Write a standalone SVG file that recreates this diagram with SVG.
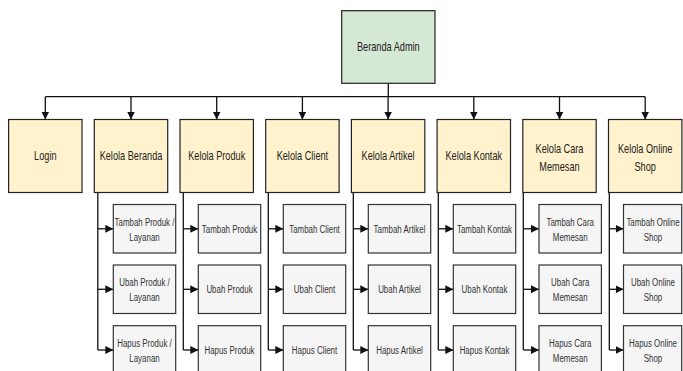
<svg xmlns="http://www.w3.org/2000/svg" width="683" height="371" viewBox="0 0 683 371">
<defs>
<marker id="arr" markerUnits="userSpaceOnUse" markerWidth="8" markerHeight="8" refX="8" refY="4" orient="auto">
<path d="M0,0 L8,4 L0,8 Z" fill="#111"/>
</marker>
<style>
.root{fill:#d5e8d4;stroke:#222;stroke-width:1.2}
.main{fill:#fff2cc;stroke:#222;stroke-width:1.2}
.sub{fill:#f5f5f5;stroke:#333;stroke-width:1.2}
.t{font-family:"Liberation Sans",Arial,sans-serif;font-size:13.5px;fill:#222;text-anchor:middle}
.s{font-family:"Liberation Sans",Arial,sans-serif;font-size:11px;fill:#333;text-anchor:middle}
.c{fill:none;stroke:#111;stroke-width:1.3}
.ca{fill:none;stroke:#111;stroke-width:1.3;marker-end:url(#arr)}
</style>
</defs>
<rect width="683" height="371" fill="#fff"/>

<g id="connectors">
<path class="c" d="M388.3,83.3 V96.7"/>
<path class="c" d="M45.3,96.7 H645.2"/>
<path class="ca" d="M45.3,96.7 V119.5"/>
<path class="ca" d="M131,96.7 V119.5"/>
<path class="ca" d="M216.7,96.7 V119.5"/>
<path class="ca" d="M302.4,96.7 V119.5"/>
<path class="ca" d="M388.1,96.7 V119.5"/>
<path class="ca" d="M473.8,96.7 V119.5"/>
<path class="ca" d="M559.5,96.7 V119.5"/>
<path class="ca" d="M645.2,96.7 V119.5"/>

<path class="c" d="M97.8,192.5 V350"/>
<path class="ca" d="M97.8,228.8 H113.3"/>
<path class="ca" d="M97.8,289.3 H113.3"/>
<path class="ca" d="M97.8,350 H113.3"/>

<path class="c" d="M183.3,192.5 V350"/>
<path class="ca" d="M183.3,228.8 H198.3"/>
<path class="ca" d="M183.3,289.3 H198.3"/>
<path class="ca" d="M183.3,350 H198.3"/>

<path class="c" d="M268.3,192.5 V350"/>
<path class="ca" d="M268.3,228.8 H283.3"/>
<path class="ca" d="M268.3,289.3 H283.3"/>
<path class="ca" d="M268.3,350 H283.3"/>

<path class="c" d="M353.3,192.5 V350"/>
<path class="ca" d="M353.3,228.8 H368.3"/>
<path class="ca" d="M353.3,289.3 H368.3"/>
<path class="ca" d="M353.3,350 H368.3"/>

<path class="c" d="M438.3,192.5 V350"/>
<path class="ca" d="M438.3,228.8 H453.3"/>
<path class="ca" d="M438.3,289.3 H453.3"/>
<path class="ca" d="M438.3,350 H453.3"/>

<path class="c" d="M523.3,192.5 V350"/>
<path class="ca" d="M523.3,228.8 H539"/>
<path class="ca" d="M523.3,289.3 H539"/>
<path class="ca" d="M523.3,350 H539"/>

<path class="c" d="M609.3,192.5 V350"/>
<path class="ca" d="M609.3,228.8 H623.5"/>
<path class="ca" d="M609.3,289.3 H623.5"/>
<path class="ca" d="M609.3,350 H623.5"/>
</g>

<g id="beranda-admin">
<rect class="root" x="341.7" y="10.7" width="93.3" height="72.6"/>
<text class="t" transform="translate(388.3,51) scale(0.68,1)">Beranda Admin</text>
</g>

<g id="login">
<rect class="main" x="8.6" y="119.5" width="73.4" height="73"/>
<text class="t" transform="translate(45.3,160) scale(0.68,1)">Login</text>
</g>
<g id="kelola-beranda">
<rect class="main" x="94.3" y="119.5" width="73.4" height="73"/>
<text class="t" transform="translate(131,160) scale(0.68,1)">Kelola Beranda</text>
</g>
<g id="kelola-produk">
<rect class="main" x="180" y="119.5" width="73.4" height="73"/>
<text class="t" transform="translate(216.7,160) scale(0.68,1)">Kelola Produk</text>
</g>
<g id="kelola-client">
<rect class="main" x="265.7" y="119.5" width="73.4" height="73"/>
<text class="t" transform="translate(302.4,160) scale(0.68,1)">Kelola Client</text>
</g>
<g id="kelola-artikel">
<rect class="main" x="351.4" y="119.5" width="73.4" height="73"/>
<text class="t" transform="translate(388.1,160) scale(0.68,1)">Kelola Artikel</text>
</g>
<g id="kelola-kontak">
<rect class="main" x="437.1" y="119.5" width="73.4" height="73"/>
<text class="t" transform="translate(473.8,160) scale(0.68,1)">Kelola Kontak</text>
</g>
<g id="kelola-cara-memesan">
<rect class="main" x="522.8" y="119.5" width="73.4" height="73"/>
<text class="t" transform="translate(559.5,152.5) scale(0.68,1)">Kelola Cara</text>
<text class="t" transform="translate(559.5,171) scale(0.68,1)">Memesan</text>
</g>
<g id="kelola-online-shop">
<rect class="main" x="608.5" y="119.5" width="73.4" height="73"/>
<text class="t" transform="translate(645.2,152.5) scale(0.68,1)">Kelola Online</text>
<text class="t" transform="translate(645.2,171) scale(0.68,1)">Shop</text>
</g>

<g id="tambah-produk-layanan">
<rect class="sub" x="113.3" y="204.5" width="62.4" height="48.5"/>
<text class="s" transform="translate(144.5,225.8) scale(0.72,1)">Tambah Produk /</text>
<text class="s" transform="translate(144.5,240.8) scale(0.72,1)">Layanan</text>
</g>
<g id="ubah-produk-layanan">
<rect class="sub" x="113.3" y="265" width="62.4" height="48.5"/>
<text class="s" transform="translate(144.5,286.3) scale(0.72,1)">Ubah Produk /</text>
<text class="s" transform="translate(144.5,301.3) scale(0.72,1)">Layanan</text>
</g>
<g id="hapus-produk-layanan">
<rect class="sub" x="113.3" y="325.7" width="62.4" height="48.5"/>
<text class="s" transform="translate(144.5,347) scale(0.72,1)">Hapus Produk /</text>
<text class="s" transform="translate(144.5,362) scale(0.72,1)">Layanan</text>
</g>

<g id="tambah-produk">
<rect class="sub" x="198.3" y="204.5" width="62.4" height="48.5"/>
<text class="s" transform="translate(229.5,232.8) scale(0.72,1)">Tambah Produk</text>
</g>
<g id="ubah-produk">
<rect class="sub" x="198.3" y="265" width="62.4" height="48.5"/>
<text class="s" transform="translate(229.5,293.3) scale(0.72,1)">Ubah Produk</text>
</g>
<g id="hapus-produk">
<rect class="sub" x="198.3" y="325.7" width="62.4" height="48.5"/>
<text class="s" transform="translate(229.5,354) scale(0.72,1)">Hapus Produk</text>
</g>

<g id="tambah-client">
<rect class="sub" x="283.3" y="204.5" width="62.4" height="48.5"/>
<text class="s" transform="translate(314.5,232.8) scale(0.72,1)">Tambah Client</text>
</g>
<g id="ubah-client">
<rect class="sub" x="283.3" y="265" width="62.4" height="48.5"/>
<text class="s" transform="translate(314.5,293.3) scale(0.72,1)">Ubah Client</text>
</g>
<g id="hapus-client">
<rect class="sub" x="283.3" y="325.7" width="62.4" height="48.5"/>
<text class="s" transform="translate(314.5,354) scale(0.72,1)">Hapus Client</text>
</g>

<g id="tambah-artikel">
<rect class="sub" x="368.3" y="204.5" width="62.4" height="48.5"/>
<text class="s" transform="translate(399.5,232.8) scale(0.72,1)">Tambah Artikel</text>
</g>
<g id="ubah-artikel">
<rect class="sub" x="368.3" y="265" width="62.4" height="48.5"/>
<text class="s" transform="translate(399.5,293.3) scale(0.72,1)">Ubah Artikel</text>
</g>
<g id="hapus-artikel">
<rect class="sub" x="368.3" y="325.7" width="62.4" height="48.5"/>
<text class="s" transform="translate(399.5,354) scale(0.72,1)">Hapus Artikel</text>
</g>

<g id="tambah-kontak">
<rect class="sub" x="453.3" y="204.5" width="62.4" height="48.5"/>
<text class="s" transform="translate(484.5,232.8) scale(0.72,1)">Tambah Kontak</text>
</g>
<g id="ubah-kontak">
<rect class="sub" x="453.3" y="265" width="62.4" height="48.5"/>
<text class="s" transform="translate(484.5,293.3) scale(0.72,1)">Ubah Kontak</text>
</g>
<g id="hapus-kontak">
<rect class="sub" x="453.3" y="325.7" width="62.4" height="48.5"/>
<text class="s" transform="translate(484.5,354) scale(0.72,1)">Hapus Kontak</text>
</g>

<g id="tambah-cara-memesan">
<rect class="sub" x="539" y="204.5" width="62.4" height="48.5"/>
<text class="s" transform="translate(570.2,225.8) scale(0.72,1)">Tambah Cara</text>
<text class="s" transform="translate(570.2,240.8) scale(0.72,1)">Memesan</text>
</g>
<g id="ubah-cara-memesan">
<rect class="sub" x="539" y="265" width="62.4" height="48.5"/>
<text class="s" transform="translate(570.2,286.3) scale(0.72,1)">Ubah Cara</text>
<text class="s" transform="translate(570.2,301.3) scale(0.72,1)">Memesan</text>
</g>
<g id="hapus-cara-memesan">
<rect class="sub" x="539" y="325.7" width="62.4" height="48.5"/>
<text class="s" transform="translate(570.2,347) scale(0.72,1)">Hapus Cara</text>
<text class="s" transform="translate(570.2,362) scale(0.72,1)">Memesan</text>
</g>

<g id="tambah-online-shop">
<rect class="sub" x="623.5" y="204.5" width="58.2" height="48.5"/>
<text class="s" transform="translate(653,225.8) scale(0.72,1)">Tambah Online</text>
<text class="s" transform="translate(653,240.8) scale(0.72,1)">Shop</text>
</g>
<g id="ubah-online-shop">
<rect class="sub" x="623.5" y="265" width="58.2" height="48.5"/>
<text class="s" transform="translate(653,286.3) scale(0.72,1)">Ubah Online</text>
<text class="s" transform="translate(653,301.3) scale(0.72,1)">Shop</text>
</g>
<g id="hapus-online-shop">
<rect class="sub" x="623.5" y="325.7" width="58.2" height="48.5"/>
<text class="s" transform="translate(653,347) scale(0.72,1)">Hapus Online</text>
<text class="s" transform="translate(653,362) scale(0.72,1)">Shop</text>
</g>
</svg>
